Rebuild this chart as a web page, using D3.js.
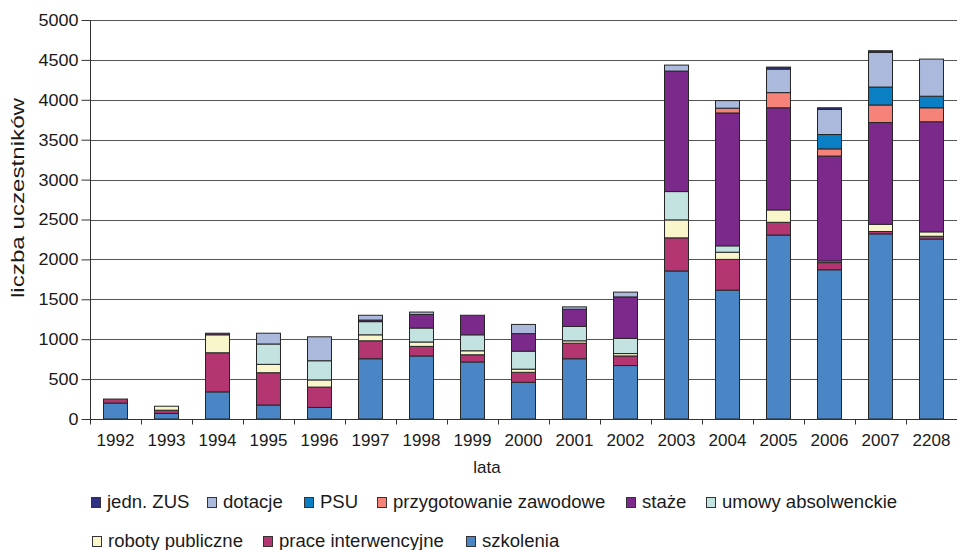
<!DOCTYPE html>
<html>
<head>
<meta charset="utf-8">
<script src="https://cdn.jsdelivr.net/npm/d3@7"></script>
<style>
  html, body { margin: 0; padding: 0; background: #fff; }
  svg { display: block; font-family: "Liberation Sans", Arial, sans-serif; }
</style>
</head>
<body>
<svg id="chart" width="957" height="550"></svg>
<script>
// Years on the category axis (the last label is printed as "2208")
const years = ["1992","1993","1994","1995","1996","1997","1998","1999","2000","2001","2002","2003","2004","2005","2006","2007","2208"];

// Participants per programme, stacked bottom to top in this order
const szkolenia          = [200,  70, 340, 175, 145, 755, 790, 715, 460, 755, 670, 1855, 1615, 2305, 1870, 2320, 2255];
const praceInterwencyjne = [ 50,  40, 490, 405, 255, 225, 120,  90, 125, 195, 120,  415,  385,  160,   90,   30,   35];
const robotyPubliczne    = [  0,  50, 225, 105,  90,  75,  55,  50,  40,  30,  30,  225,   90,  155,   20,   90,   55];
const umowyAbsolwenckie  = [  0,   0,   0, 255, 240, 165, 175, 200, 225, 180, 190,  355,   80,    0,    0,    0,    0];
const staze              = [  0,   0,  20,   0,   0,  20, 170, 245, 220, 215, 520, 1510, 1665, 1280, 1315, 1275, 1380];
const przygotowanie      = [  0,   0,   0,   0,   0,   0,   0,   0,   0,   0,   0,    0,   60,  190,   90,  220,  175];
const psu                = [  0,   0,   0,   0,   0,   0,   0,   0,   0,   0,   0,    0,    0,    0,  180,  225,  145];
const dotacje            = [  0,   0,   0, 135, 300,  60,  30,   0, 115,  30,  60,   75,   95,  295,  315,  435,  465];
const jednZUS            = [  0,   0,   0,   0,   0,   0,   0,   0,   0,   0,   0,    0,    0,   25,   20,   20,    0];

const yTicks = [0, 500, 1000, 1500, 2000, 2500, 3000, 3500, 4000, 4500, 5000];

const series = [
  { key: "szkolenia",              values: szkolenia,          color: "#4a86c6" },
  { key: "prace interwencyjne",    values: praceInterwencyjne, color: "#b43670" },
  { key: "roboty publiczne",       values: robotyPubliczne,    color: "#faf6cc" },
  { key: "umowy absolwenckie",     values: umowyAbsolwenckie,  color: "#c3e3e0" },
  { key: "staże",                  values: staze,              color: "#7b2a8b" },
  { key: "przygotowanie zawodowe", values: przygotowanie,      color: "#f5837a" },
  { key: "PSU",                    values: psu,                color: "#0a7fc4" },
  { key: "dotacje",                values: dotacje,            color: "#abb9dd" },
  { key: "jedn. ZUS",              values: jednZUS,            color: "#2e3183" }
];

const rows = years.map((yr, i) => {
  const r = { year: yr };
  series.forEach(s => { r[s.key] = s.values[i]; });
  return r;
});

const svg = d3.select("#chart");
const plotLeft = 90, plotRight = 957, plotTop = 20, plotBottom = 419;

const x = d3.scaleBand().domain(years).range([plotLeft, plotRight]).paddingInner(0.53).paddingOuter(0.265);
const y = d3.scaleLinear().domain([0, 5000]).range([plotBottom, plotTop]);

// Horizontal grid lines
svg.append("g")
  .selectAll("line")
  .data(yTicks.filter(d => d > 0))
  .join("line")
  .attr("x1", plotLeft).attr("x2", plotRight)
  .attr("y1", d => Math.round(y(d)) + 0.5)
  .attr("y2", d => Math.round(y(d)) + 0.5)
  .attr("stroke", "#555")
  .attr("stroke-width", 1);

// Stacked bars
const stack = d3.stack().keys(series.map(s => s.key));
const layers = stack(rows);
const colorOf = new Map(series.map(s => [s.key, s.color]));

svg.append("g")
  .selectAll("g")
  .data(layers)
  .join("g")
  .attr("fill", d => colorOf.get(d.key))
  .selectAll("rect")
  .data(d => d.filter(p => p[1] - p[0] > 0))
  .join("rect")
  .attr("x", d => x(d.data.year))
  .attr("width", x.bandwidth())
  .attr("y", d => y(d[1]))
  .attr("height", d => y(d[0]) - y(d[1]))
  .attr("stroke", "#262626")
  .attr("stroke-width", 1);

// Y axis
const yAxis = d3.axisLeft(y).tickValues(yTicks).tickSize(9).tickPadding(3).tickFormat(d3.format("d"));
const gy = svg.append("g").attr("transform", `translate(${plotLeft + 0.5},0)`).call(yAxis);
gy.select(".domain").attr("stroke", "#333").attr("d", `M0,${y(5000)}V${y(0)}`);
gy.selectAll(".tick line").attr("stroke", "#333");
gy.selectAll(".tick text")
  .attr("x", 0)
  .attr("transform", "translate(-12,0) scale(1.06,1)")
  .attr("font-size", 17).attr("fill", "#1a1a1a")
  .attr("font-family", "'Liberation Sans', Arial, sans-serif");

// X axis: ticks at category boundaries, labels centred under bars
const gx = svg.append("g").attr("transform", `translate(0,${plotBottom + 0.5})`);
gx.append("line").attr("x1", plotLeft).attr("x2", plotRight).attr("stroke", "#333");
const step = x.step();
const bounds = d3.range(years.length + 1).map(i => plotLeft + i * step);
gx.selectAll("line.tick")
  .data(bounds)
  .join("line")
  .attr("class", "tick")
  .attr("x1", d => Math.round(d) + 0.5).attr("x2", d => Math.round(d) + 0.5)
  .attr("y1", 0).attr("y2", 5)
  .attr("stroke", "#333");
gx.selectAll("text")
  .data(years)
  .join("text")
  .attr("x", d => x(d) + x.bandwidth() / 2)
  .attr("y", 26)
  .attr("text-anchor", "middle")
  .attr("font-size", 17)
  .attr("fill", "#1a1a1a")
  .text(d => d);

// Axis titles
svg.append("text")
  .attr("x", 487).attr("y", 473)
  .attr("text-anchor", "middle")
  .attr("font-size", 17).attr("fill", "#1a1a1a")
  .text("lata");
svg.append("text")
  .attr("transform", "translate(24,198) rotate(-90)")
  .attr("text-anchor", "middle")
  .attr("font-size", 18).attr("fill", "#1a1a1a")
  .attr("textLength", 200).attr("lengthAdjust", "spacingAndGlyphs")
  .text("liczba uczestników");

// Legend, two rows
const legendItems = [
  { key: "jedn. ZUS",              x: 91,  row: 0 },
  { key: "dotacje",                x: 207, row: 0 },
  { key: "PSU",                    x: 304, row: 0 },
  { key: "przygotowanie zawodowe", x: 377, row: 0 },
  { key: "staże",                  x: 626, row: 0 },
  { key: "umowy absolwenckie",     x: 706, row: 0 },
  { key: "roboty publiczne",       x: 92,  row: 1 },
  { key: "prace interwencyjne",    x: 263, row: 1 },
  { key: "szkolenia",              x: 466, row: 1 }
];
const rowY = [502, 541];
const lg = svg.append("g")
  .selectAll("g")
  .data(legendItems)
  .join("g")
  .attr("transform", d => `translate(${d.x},${rowY[d.row]})`);
lg.append("rect")
  .attr("x", 0.5).attr("y", -4.5)
  .attr("width", 9).attr("height", 10)
  .attr("fill", d => colorOf.get(d.key))
  .attr("stroke", "#333").attr("stroke-width", 1);
lg.append("text")
  .attr("transform", "translate(16,6) scale(1.06,1)")
  .attr("font-size", 17.5).attr("fill", "#1a1a1a")
  .text(d => d.key);
</script>
</body>
</html>
